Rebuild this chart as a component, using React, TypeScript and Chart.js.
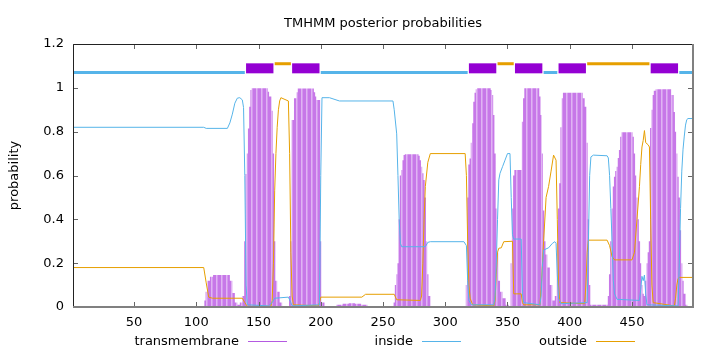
import React, { useEffect, useRef } from "react";
import { Chart, registerables } from "chart.js";

Chart.register(...registerables);

const TITLE = "TMHMM posterior probabilities";
const Y_LABEL = "probability";
const LEGEND_LABELS = ["transmembrane", "inside", "outside"];

const SEQ_START = 1;
const SEQ_END = 499;
const X_TICKS = [50, 100, 150, 200, 250, 300, 350, 400, 450];
const Y_TICKS = [0, 0.2, 0.4, 0.6, 0.8, 1, 1.2];

// posterior probability curves: [residue, probability]
const INSIDE_PROB: [number, number][] = [
  [1, 0.82], [106, 0.82], [108, 0.815], [125, 0.815], [127, 0.84], [129, 0.88], [131, 0.93], [133, 0.953],
  [135, 0.955], [137, 0.945], [138, 0.91], [139, 0.6], [140, 0.1], [141, 0.01], [158, 0.005], [161, 0.02],
  [163, 0.04], [174, 0.045], [176, 0.02], [177, 0.005], [199, 0.01], [200, 0.6], [201, 0.955], [207, 0.955],
  [215, 0.94], [258, 0.94], [259, 0.9], [261, 0.79], [262, 0.6], [263, 0.4], [264, 0.29], [265, 0.275],
  [284, 0.275], [286, 0.295], [288, 0.298], [315, 0.298], [317, 0.28], [318, 0.12], [319, 0.03], [321, 0.01],
  [339, 0.01], [340, 0.05], [341, 0.2], [342, 0.4], [343, 0.58], [344, 0.61], [346, 0.64], [348, 0.67],
  [350, 0.7], [352, 0.7], [353, 0.5], [354, 0.33], [355, 0.31], [361, 0.31], [362, 0.06], [363, 0.02],
  [376, 0.01], [377, 0.05], [378, 0.18], [379, 0.26], [383, 0.27], [386, 0.29], [388, 0.298], [389, 0.29],
  [390, 0.15], [391, 0.04], [393, 0.015], [414, 0.02], [415, 0.3], [416, 0.6], [417, 0.685], [419, 0.693],
  [430, 0.69], [431, 0.68], [432, 0.6], [433, 0.45], [434, 0.3], [435, 0.12], [436, 0.06], [438, 0.035],
  [456, 0.03], [457, 0.08], [458, 0.14], [459, 0.12], [460, 0.146], [461, 0.06], [462, 0.01], [487, 0.005],
  [488, 0.2], [489, 0.45], [490, 0.62], [491, 0.72], [492, 0.78], [493, 0.83], [494, 0.855], [495, 0.86],
  [499, 0.86],
];

const OUTSIDE_PROB: [number, number][] = [
  [1, 0.18], [106, 0.18], [108, 0.11], [110, 0.045], [113, 0.04], [137, 0.04], [139, 0.02], [141, 0.003],
  [160, 0.003], [161, 0.03], [162, 0.2], [163, 0.53], [164, 0.7], [165, 0.82], [166, 0.9], [167, 0.94],
  [168, 0.955], [174, 0.94], [175, 0.7], [176, 0.25], [177, 0.05], [178, 0.01], [198, 0.005], [199, 0.02],
  [200, 0.045], [233, 0.045], [236, 0.058], [259, 0.058], [261, 0.033], [280, 0.03], [281, 0.05], [282, 0.2],
  [283, 0.4], [284, 0.55], [286, 0.66], [288, 0.7], [316, 0.7], [317, 0.6], [318, 0.3], [319, 0.1],
  [320, 0.04], [322, 0.01], [339, 0.005], [340, 0.03], [341, 0.15], [342, 0.25], [343, 0.268], [345, 0.27],
  [347, 0.298], [354, 0.3], [355, 0.06], [361, 0.06], [362, 0.02], [363, 0.01], [376, 0.01], [377, 0.08],
  [379, 0.3], [381, 0.5], [383, 0.55], [385, 0.62], [387, 0.693], [389, 0.67], [390, 0.4], [391, 0.1],
  [392, 0.02], [412, 0.015], [413, 0.1], [414, 0.25], [415, 0.305], [430, 0.305], [432, 0.28], [434, 0.23],
  [436, 0.215], [450, 0.215], [452, 0.25], [454, 0.4], [456, 0.55], [457, 0.65], [458, 0.73], [459, 0.76],
  [460, 0.805], [461, 0.75], [463, 0.74], [464, 0.73], [465, 0.4], [466, 0.1], [467, 0.02], [484, 0.005],
  [485, 0.04], [486, 0.1], [487, 0.13], [488, 0.135], [499, 0.135],
];

const TM_PROB: [number, number][] = [
  [1, 0], [106, 0], [107, 0.03], [108, 0.07], [110, 0.12], [112, 0.138], [115, 0.146], [126, 0.146],
  [128, 0.12], [130, 0.064], [132, 0.02], [134, 0.01], [136, 0.02], [138, 0.05], [139, 0.3], [140, 0.607],
  [141, 0.7], [142, 0.815], [143, 0.914], [144, 0.99], [145, 0.998], [157, 0.998], [158, 0.982], [159, 0.96],
  [160, 0.96], [161, 0.895], [162, 0.7], [163, 0.3], [164, 0.12], [166, 0.07], [168, 0.02], [170, 0.005],
  [174, 0.005], [175, 0.05], [176, 0.3], [177, 0.853], [178, 0.853], [179, 0.952], [180, 0.952], [181, 0.98],
  [182, 0.997], [194, 0.997], [195, 0.98], [196, 0.96], [197, 0.944], [199, 0.944], [200, 0.3], [201, 0.02],
  [205, 0.005], [210, 0.005], [215, 0.01], [220, 0.015], [225, 0.017], [230, 0.015], [235, 0.01], [240, 0.003],
  [258, 0.002], [259, 0.02], [260, 0.1], [261, 0.15], [262, 0.2], [263, 0.4], [264, 0.6], [265, 0.625],
  [266, 0.67], [267, 0.694], [268, 0.697], [278, 0.697], [279, 0.69], [280, 0.67], [281, 0.64], [282, 0.61],
  [283, 0.58], [284, 0.5], [285, 0.3], [286, 0.15], [287, 0.05], [289, 0.005], [316, 0.005], [317, 0.1],
  [318, 0.5], [319, 0.65], [320, 0.678], [321, 0.75], [322, 0.838], [323, 0.937], [324, 0.978], [325, 0.993],
  [326, 0.998], [336, 0.998], [337, 0.99], [338, 0.967], [339, 0.876], [340, 0.7], [341, 0.45], [342, 0.25],
  [343, 0.12], [345, 0.07], [347, 0.04], [350, 0.01], [352, 0.005], [353, 0.2], [354, 0.45], [355, 0.6],
  [356, 0.625], [361, 0.625], [362, 0.845], [363, 0.952], [364, 0.998], [375, 0.998], [376, 0.96], [377, 0.876],
  [378, 0.7], [379, 0.44], [380, 0.3], [381, 0.24], [383, 0.18], [385, 0.1], [387, 0.03], [389, 0.05],
  [390, 0.3], [391, 0.45], [392, 0.565], [393, 0.82], [394, 0.952], [395, 0.978], [410, 0.978], [411, 0.952],
  [413, 0.914], [414, 0.75], [415, 0.4], [416, 0.1], [417, 0.01], [430, 0.01], [431, 0.05], [432, 0.15],
  [433, 0.3], [434, 0.45], [435, 0.55], [436, 0.594], [437, 0.62], [438, 0.64], [439, 0.68], [440, 0.716],
  [441, 0.777], [442, 0.797], [450, 0.797], [451, 0.777], [452, 0.7], [453, 0.6], [454, 0.5], [455, 0.4],
  [456, 0.3], [457, 0.2], [458, 0.1], [459, 0.06], [460, 0.05], [461, 0.12], [462, 0.2], [463, 0.25],
  [464, 0.3], [465, 0.817], [466, 0.9], [467, 0.967], [468, 0.987], [470, 0.993], [481, 0.993], [482, 0.967],
  [483, 0.967], [484, 0.89], [485, 0.8], [486, 0.7], [487, 0.594], [488, 0.5], [489, 0.35], [490, 0.2],
  [491, 0.12], [492, 0.06], [494, 0.01], [495, 0], [499, 0],
];

// predicted topology: [first residue, last residue]
const TM_SEGMENTS: [number, number][] = [[140, 162], [177, 199], [319, 341], [356, 378], [391, 413], [465, 487]];
const INSIDE_SEGMENTS: [number, number][] = [[1, 139], [200, 318], [379, 390], [488, 499]];
const OUTSIDE_SEGMENTS: [number, number][] = [[163, 176], [342, 355], [414, 464]];
const TOPO_INSIDE_LEVEL = 1.07;
const TOPO_OUTSIDE_LEVEL = 1.11;
const TOPO_TM_LEVEL = 1.089;

const FONT = "DejaVu Sans";
const C_TM_DARK = "rgb(199,120,232)";
const C_TM_LIGHT = "rgb(224,180,243)";
const C_TM_MID = "rgb(212,152,238)";
const C_TM_LEGEND = "rgb(180,90,225)";
const C_INSIDE = "#56b4e9";
const C_OUTSIDE = "#e69f00";
const C_TM_BOX = "#9400d3";

export default function App() {
  const ref = useRef<HTMLCanvasElement | null>(null);

  useEffect(() => {
    document.body.style.margin = "0";
    const canvas = ref.current!;
    const ctx = canvas.getContext("2d")!;

    const pc = document.createElement("canvas");
    pc.width = 5;
    pc.height = 1;
    const pctx = pc.getContext("2d")!;
    [C_TM_DARK, C_TM_LIGHT, C_TM_MID, C_TM_DARK, C_TM_DARK].forEach((c, i) => {
      pctx.fillStyle = c;
      pctx.fillRect(i, 0, 1, 1);
    });
    const pattern = ctx.createPattern(pc, "repeat")!;

    const toXY = (arr: [number, number][]) => arr.map(([x, y]) => ({ x, y }));
    const segDatasets = (segs: [number, number][], level: number, color: string, width: number) =>
      segs.map(([s, e]) => ({
        type: "line" as const,
        data: [{ x: s, y: level }, { x: e, y: level }],
        borderColor: color,
        borderWidth: width,
        borderCapStyle: "butt" as const,
        pointRadius: 0,
        fill: false,
        order: 1,
      }));

    const decor = {
      id: "decor",
      afterDraw(chart: any) {
        const c = chart.ctx as CanvasRenderingContext2D;
        const { left, right, top, bottom } = chart.chartArea;
        const xs = chart.scales.x;
        const ys = chart.scales.y;
        c.save();
        // inward ticks
        c.strokeStyle = "#666";
        c.lineWidth = 1;
        c.beginPath();
        X_TICKS.forEach((v) => {
          const px = Math.round(xs.getPixelForValue(v)) + 0.5;
          c.moveTo(px, bottom);
          c.lineTo(px, bottom - 5);
          c.moveTo(px, top);
          c.lineTo(px, top + 5);
        });
        Y_TICKS.forEach((v) => {
          const py = Math.round(ys.getPixelForValue(v)) + 0.5;
          c.moveTo(left, py);
          c.lineTo(left + 5, py);
          c.moveTo(right, py);
          c.lineTo(right - 5, py);
        });
        c.stroke();
        // frame
        c.strokeStyle = "#222";
        c.beginPath();
        c.moveTo(left + 0.5, bottom);
        c.lineTo(left + 0.5, top + 0.5);
        c.lineTo(right, top + 0.5);
        c.stroke();
        c.fillStyle = "#808080";
        c.fillRect(left, bottom - 1, right - left + 1, 2);
        c.fillRect(right - 1, top, 2, bottom - top + 1);

        // title
        c.fillStyle = "#000";
        c.font = `13px "${FONT}"`;
        c.textAlign = "center";
        c.textBaseline = "alphabetic";
        c.fillText(TITLE, (left + right) / 2, 27);

        // y label
        c.save();
        c.translate(15, (top + bottom) / 2);
        c.rotate(-Math.PI / 2);
        c.textAlign = "center";
        c.textBaseline = "middle";
        c.fillText(Y_LABEL, 0, 0);
        c.restore();

        // legend
        const colors = [C_TM_LEGEND, C_INSIDE, C_OUTSIDE];
        const ly = 341.5;
        LEGEND_LABELS.forEach((lab, i) => {
          const textEnd = left + 166 + i * 174;
          c.fillStyle = "#000";
          c.textAlign = "right";
          c.textBaseline = "middle";
          c.fillText(lab, textEnd, ly);
          c.strokeStyle = colors[i];
          c.lineWidth = 1;
          c.beginPath();
          c.moveTo(textEnd + 9, ly);
          c.lineTo(textEnd + 48, ly);
          c.stroke();
        });
        c.restore();
      },
    };

    const chart = new Chart(ctx, {
      type: "line",
      data: {
        datasets: [
          ...segDatasets(INSIDE_SEGMENTS, TOPO_INSIDE_LEVEL, C_INSIDE, 3),
          ...segDatasets(OUTSIDE_SEGMENTS, TOPO_OUTSIDE_LEVEL, C_OUTSIDE, 3),
          ...segDatasets(TM_SEGMENTS, TOPO_TM_LEVEL, C_TM_BOX, 10),
          {
            label: "inside",
            data: toXY(INSIDE_PROB),
            borderColor: C_INSIDE,
            borderWidth: 1,
            pointRadius: 0,
            fill: false,
            order: 2,
          },
          {
            label: "outside",
            data: toXY(OUTSIDE_PROB),
            borderColor: C_OUTSIDE,
            borderWidth: 1,
            pointRadius: 0,
            fill: false,
            order: 2,
          },
          {
            label: "transmembrane",
            data: toXY(TM_PROB),
            borderWidth: 0,
            borderColor: "rgba(0,0,0,0)",
            backgroundColor: pattern,
            pointRadius: 0,
            fill: "origin",
            stepped: "middle",
            order: 3,
          },
        ] as any,
      },
      options: {
        responsive: false,
        animation: false,
        devicePixelRatio: 1,
        layout: { padding: { top: 44, right: 27, bottom: 0, left: 0 } },
        plugins: { legend: { display: false }, title: { display: false }, tooltip: { enabled: false } },
        scales: {
          x: {
            type: "linear",
            min: SEQ_START,
            max: SEQ_END,
            grid: { display: false, drawTicks: false },
            border: { display: false },
            afterBuildTicks: (s: any) => {
              s.ticks = X_TICKS.map((value) => ({ value }));
            },
            afterFit: (s: any) => {
              s.height = 45;
            },
            ticks: {
              autoSkip: false,
              maxRotation: 0,
              padding: 8,
              color: "#000",
              font: { family: FONT, size: 13 },
              callback: (v: any) => String(v),
            },
          },
          y: {
            type: "linear",
            min: 0,
            max: 1.2,
            grid: { display: false, drawTicks: false },
            border: { display: false },
            afterBuildTicks: (s: any) => {
              s.ticks = Y_TICKS.map((value) => ({ value }));
            },
            afterFit: (s: any) => {
              s.width = 73;
            },
            ticks: {
              padding: 9,
              color: "#000",
              font: { family: FONT, size: 13 },
              callback: (v: any) => String(Math.round(Number(v) * 10) / 10),
            },
          },
        },
      },
      plugins: [decor],
    });

    return () => chart.destroy();
  }, []);

  return <canvas ref={ref} width={720} height={352} style={{ display: "block" }} />;
}
